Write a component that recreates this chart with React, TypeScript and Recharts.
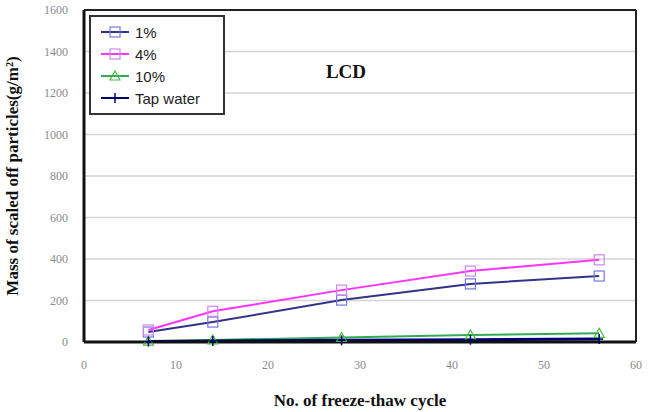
import {
  LineChart,
  Line,
  XAxis,
  YAxis,
  CartesianGrid,
  ReferenceLine,
} from "recharts";

// freeze-thaw cycles
const cycles = [7, 14, 28, 42, 56];

// mass of scaled off particles (g/m2) per solution
const pct1 = [48, 96, 202, 280, 318];
const pct4 = [58, 148, 250, 342, 396];
const pct10 = [4, 10, 22, 34, 42];
const tapWater = [2, 5, 8, 11, 14];

const xTicks = [0, 10, 20, 30, 40, 50, 60];
const yTicks = [0, 200, 400, 600, 800, 1000, 1200, 1400, 1600];

const data = cycles.map((c, i) => ({
  cycle: c,
  p1: pct1[i],
  p4: pct4[i],
  p10: pct10[i],
  tap: tapWater[i],
}));

type SeriesDef = {
  key: string;
  name: string;
  line: string;
  marker: string;
  shape: "square" | "triangle" | "star";
};

const SERIES: SeriesDef[] = [
  { key: "p1", name: "1%", line: "#333388", marker: "#7777dd", shape: "square" },
  { key: "p4", name: "4%", line: "#ff33ff", marker: "#cc88ee", shape: "square" },
  { key: "p10", name: "10%", line: "#33aa55", marker: "#44bb44", shape: "triangle" },
  { key: "tap", name: "Tap water", line: "#000070", marker: "#000070", shape: "star" },
];

const serif = "'Liberation Serif', 'Times New Roman', serif";
const sans = "'Liberation Sans', Arial, sans-serif";

function Marker({ cx, cy, s }: { cx: number; cy: number; s: SeriesDef }) {
  if (cx == null || cy == null) return null;
  if (s.shape === "square") {
    return <rect x={cx - 5} y={cy - 5} width={10} height={10} fill="none" stroke={s.marker} strokeWidth={1.2} />;
  }
  if (s.shape === "triangle") {
    return (
      <polygon
        points={`${cx},${cy - 5} ${cx + 5},${cy + 4} ${cx - 5},${cy + 4}`}
        fill="none"
        stroke={s.marker}
        strokeWidth={1.2}
      />
    );
  }
  return (
    <g stroke={s.marker} strokeWidth={1.5}>
      <line x1={cx - 4} y1={cy} x2={cx + 4} y2={cy} />
      <line x1={cx} y1={cy - 5} x2={cx} y2={cy + 5} />
    </g>
  );
}

// legend box drawn over the plot, top-left
const LegendBox = () => (
  <div
    style={{
      position: "absolute",
      left: 89,
      top: 15,
      width: 132,
      height: 92,
      border: "2px solid #333",
      background: "#fff",
      fontFamily: sans,
      fontSize: 15,
      color: "#222",
      paddingTop: 4,
      boxSizing: "content-box",
    }}
  >
    {SERIES.map((s) => (
      <div key={s.key} style={{ display: "flex", alignItems: "center", height: 22 }}>
        <svg width={36} height={14} style={{ marginLeft: 6 }}>
          <line x1={4} y1={7} x2={32} y2={7} stroke={s.line} strokeWidth={2} />
          <Marker cx={18} cy={7} s={s} />
        </svg>
        <span style={{ marginLeft: 2 }}>{s.name}</span>
      </div>
    ))}
  </div>
);

const App = () => {
  return (
    <div style={{ position: "absolute", left: 0, top: 0, width: 656, height: 412, background: "#fff" }}>
      <LineChart width={656} height={412} data={data} margin={{ top: 10, right: 20, bottom: 0, left: 0 }}>
        <CartesianGrid vertical={false} stroke="#d4d4d4" strokeWidth={1.5} />
        <XAxis
          dataKey="cycle"
          type="number"
          domain={[0, 60]}
          ticks={xTicks}
          height={70}
          stroke="#111"
          strokeWidth={3}
          tickLine={false}
          tick={{ fill: "#8a8a8a", fontSize: 12, fontFamily: serif }}
          tickMargin={12}
          label={{
            value: "No. of  freeze-thaw cycle",
            position: "insideBottom",
            offset: 6,
            style: { fontFamily: serif, fontWeight: "bold", fontSize: 17, fill: "#111" },
          }}
        />
        <YAxis
          type="number"
          domain={[0, 1600]}
          ticks={yTicks}
          width={84}
          stroke="#111"
          strokeWidth={3}
          tickLine={false}
          tick={{ fill: "#8a8a8a", fontSize: 12, fontFamily: serif }}
          tickMargin={10}
          label={{
            value: "Mass of scaled off particles(g/m²)",
            angle: -90,
            position: "insideLeft",
            offset: 12,
            style: { textAnchor: "middle", fontFamily: serif, fontWeight: "bold", fontSize: 17, fill: "#111" },
          }}
        />
        <ReferenceLine y={1600} stroke="#222" strokeWidth={2} />
        <ReferenceLine x={60} stroke="#222" strokeWidth={2} />
        {SERIES.map((s) => (
          <Line
            key={s.key}
            dataKey={s.key}
            name={s.name}
            stroke={s.line}
            strokeWidth={s.key === "tap" ? 3 : 2}
            isAnimationActive={false}
            dot={(p: any) => <Marker key={`${s.key}-${p.index}`} cx={p.cx} cy={p.cy} s={s} />}
            activeDot={false}
          />
        ))}
        <text x={346} y={78} textAnchor="middle" fontFamily={serif} fontWeight="bold" fontSize={19} fill="#111">
          LCD
        </text>
      </LineChart>
      <LegendBox />
    </div>
  );
};

export default App;
